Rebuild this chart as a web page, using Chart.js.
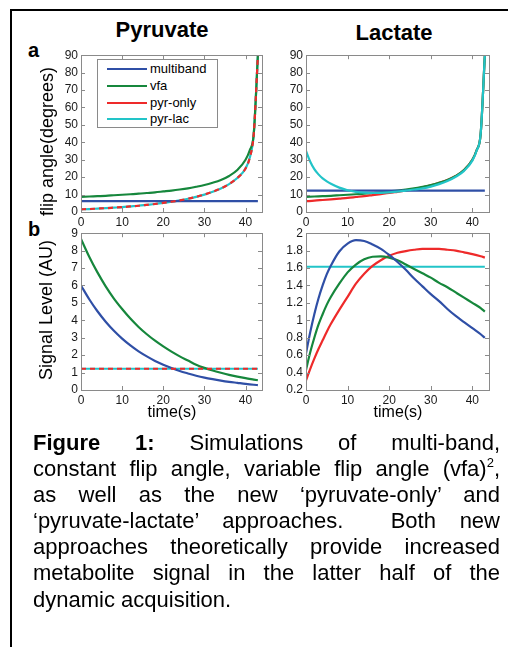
<!DOCTYPE html>
<html>
<head>
<meta charset="utf-8">
<script src="https://cdn.jsdelivr.net/npm/chart.js"></script>
<style>
  body { margin: 0; background: #fff; }
  #fig { position: relative; width: 508px; height: 647px; overflow: hidden;
         font-family: "Liberation Sans", Arial, Helvetica, sans-serif; color: #000; }
  .abs { position: absolute; white-space: nowrap; }
  canvas { position: absolute; }
  .title { font-size: 22px; font-weight: bold; line-height: 22px; width: 200px; text-align: center; }
  .panel { font-size: 20px; font-weight: bold; line-height: 20px; }
  .ylab { width: 220px; text-align: center; transform: rotate(-90deg); }
  .xlab { font-size: 16px; line-height: 16px; width: 100px; text-align: center; }
  #legend { position: absolute; left: 97px; top: 59px; width: 119px; height: 67px;
            border: 1px solid #8a8a8a; background: #fff; font-size: 13px; }
  .lrow { position: absolute; left: 0; height: 16px; line-height: 16px; white-space: nowrap; }
  .lline { position: absolute; left: 9px; top: 7px; width: 40px; height: 2px; }
  .ltext { position: absolute; left: 52px; top: 0; }
  #caption { position: absolute; left: 33px; top: 430px; width: 467px; font-size: 22px; }
  #caption div { height: 26.1px; line-height: 26.1px; text-align: justify; text-align-last: justify; white-space: nowrap; }
  #caption div.last { text-align-last: left; }
</style>
</head>
<body>
<div id="fig">
  <div class="abs" style="left:10px;top:9px;width:498px;height:2px;background:#000"></div>
  <div class="abs" style="left:10px;top:9px;width:2px;height:638px;background:#000"></div>

  <div class="abs title" style="left:62px;top:19px">Pyruvate</div>
  <div class="abs title" style="left:294px;top:22px">Lactate</div>
  <div class="abs panel" style="left:28px;top:40px">a</div>
  <div class="abs panel" style="left:28px;top:219px">b</div>

  <canvas id="flipPyr" width="219" height="189" style="left:51px;top:45px"></canvas>
  <canvas id="flipLac" width="221" height="189" style="left:276px;top:45px"></canvas>
  <canvas id="sigPyr" width="219" height="189" style="left:51px;top:223px"></canvas>
  <canvas id="sigLac" width="221" height="189" style="left:276px;top:223px"></canvas>

  <div class="abs ylab" style="left:-63px;top:132px;font-size:18px;line-height:19px">flip angle(degrees)</div>
  <div class="abs ylab" style="left:-64px;top:301px;font-size:18px;line-height:18px">Signal Level (AU)</div>
  <div class="abs xlab" style="left:122px;top:404px">time(s)</div>
  <div class="abs xlab" style="left:348px;top:404px">time(s)</div>

  <div id="legend"></div>

  <div id="caption">
    <div><b>Figure 1:</b> Simulations of multi-band,</div>
    <div>constant flip angle, variable flip angle (vfa)<span style="font-size:13px;position:relative;top:-9px">2</span>,</div>
    <div>as well as the new ‘pyruvate-only’ and</div>
    <div>‘pyruvate-lactate’ approaches.&nbsp; Both new</div>
    <div>approaches theoretically provide increased</div>
    <div>metabolite signal in the latter half of the</div>
    <div class="last">dynamic acquisition.</div>
  </div>
</div>

<script>
// time axes (s)
const timeFlat = [0, 43]
const timeFlip = [0, 2, 4, 6, 8, 10, 12, 14, 16, 18, 20, 22, 24, 26, 28, 30, 32, 34, 36, 38, 40, 41, 42, 43]
const timeFlipPL = [0, 1, 2, 3, 4, 5, 6, 8, 10, 12, 14, 16, 18, 20, 22, 24, 26, 28, 30, 32, 34, 36, 38, 40, 41, 42, 43]
const timeSigPyr = [0, 2, 4, 6, 8, 10, 12, 14, 16, 18, 20, 22, 24, 26, 28, 30, 32, 34, 36, 38, 40, 42, 43]
const timeSigLac = [0, 1, 2, 3, 4, 5, 6, 8, 10, 12, 14, 16, 18, 20, 22, 24, 26, 28, 30, 32, 34, 36, 38, 40, 42, 43]

// (a) flip angles, pyruvate
const multibandFlipPyr = [6.2, 6.2]
const vfaFlip = [8.7, 8.9, 9.1, 9.3, 9.6, 9.9, 10.2, 10.5, 10.9, 11.3, 11.8, 12.3, 12.9, 13.6, 14.5, 15.5, 16.8, 18.4, 20.7, 24.1, 30, 35.3, 45, 90]
const pyrOnlyFlipPyr = [1.5, 1.7, 1.95, 2.2, 2.5, 2.8, 3.2, 3.6, 4.1, 4.6, 5.2, 5.9, 6.7, 7.6, 8.7, 10.0, 11.6, 13.5, 16.0, 19.5, 25, 31, 45, 90]
const pyrLacFlipPyr = [1.5, 1.7, 1.95, 2.2, 2.5, 2.8, 3.2, 3.6, 4.1, 4.6, 5.2, 5.9, 6.7, 7.6, 8.7, 10.0, 11.6, 13.5, 16.0, 19.5, 25, 31, 45, 90]

// (a) flip angles, lactate
const multibandFlipLac = [12.3, 12.3]
const pyrOnlyFlipLac = [6.2, 6.5, 6.9, 7.3, 7.7, 8.1, 8.6, 9.1, 9.7, 10.3, 10.9, 11.6, 12.3, 13.1, 14.1, 15.3, 16.7, 18.4, 20.7, 24.1, 30, 35.3, 45, 90]
const pyrLacFlipLac = [35, 29, 24.6, 21.6, 19.3, 17.6, 16.2, 14.0, 12.5, 11.6, 11.1, 10.9, 11.0, 11.3, 11.7, 12.3, 12.9, 13.6, 14.6, 16.0, 17.8, 20.2, 23.6, 29.5, 35, 45, 90]

// (b) signal, pyruvate
const multibandSigPyr = [6.00, 5.21, 4.52, 3.92, 3.40, 2.95, 2.56, 2.22, 1.93, 1.67, 1.45, 1.26, 1.09, 0.95, 0.82, 0.71, 0.62, 0.54, 0.47, 0.41, 0.35, 0.30, 0.28]
const vfaSigPyr = [8.67, 7.65, 6.75, 5.95, 5.25, 4.65, 4.1, 3.62, 3.2, 2.83, 2.5, 2.2, 1.93, 1.69, 1.45, 1.27, 1.12, 0.99, 0.87, 0.77, 0.68, 0.60, 0.56]
const pyrOnlySigPyr = [1.22, 1.22]
const pyrLacSigPyr = [1.22, 1.22]

// (b) signal, lactate
const multibandSigLac = [0.62, 0.86, 1.07, 1.25, 1.40, 1.53, 1.63, 1.79, 1.88, 1.92, 1.91, 1.87, 1.82, 1.75, 1.67, 1.58, 1.48, 1.39, 1.30, 1.22, 1.13, 1.05, 0.98, 0.91, 0.84, 0.80]
const vfaSigLac = [0.43, 0.63, 0.80, 0.95, 1.07, 1.18, 1.27, 1.42, 1.55, 1.64, 1.70, 1.73, 1.735, 1.72, 1.69, 1.64, 1.59, 1.54, 1.49, 1.43, 1.38, 1.32, 1.26, 1.20, 1.14, 1.10]
const pyrOnlySigLac = [0.31, 0.44, 0.56, 0.67, 0.77, 0.87, 0.96, 1.12, 1.27, 1.42, 1.535, 1.625, 1.69, 1.74, 1.775, 1.795, 1.81, 1.82, 1.82, 1.82, 1.81, 1.80, 1.78, 1.76, 1.735, 1.72]
const pyrLacSigLac = [1.615, 1.615]

// tick labels
const xTicks = [0, 10, 20, 30, 40]
const yTicksFlip = [0, 10, 20, 30, 40, 50, 60, 70, 80, 90]
const yTicksSigPyr = [0, 1, 2, 3, 4, 5, 6, 7, 8, 9]
const yTicksSigLac = [0.2, 0.4, 0.6, 0.8, 1, 1.2, 1.4, 1.6, 1.8, 2]

const seriesNames = ['multiband', 'vfa', 'pyr-only', 'pyr-lac']

const colBlue = '#2f4fa6'
const colGreen = '#16873c'
const colRed = '#ee2a2a'
const colCyan = '#22c4c8'
const tickFont = { family: '"Liberation Sans", Arial, sans-serif', size: 12 }


function pts(t, v) {
    return t.map((x, i) => ({ x: x, y: v[i] }))
}

function line(label, t, v, color, order, dashed) {
    return {
        label: label,
        data: pts(t, v),
        borderColor: color,
        backgroundColor: color,
        borderDash: dashed ? [5, 4] : [],
        order: order
    }
}

// matlab style box with inward ticks on all four sides
const boxTicks = {
    id: 'boxTicks',
    afterDatasetsDraw(chart) {
        const ctx = chart.ctx
        const a = chart.chartArea
        const x = chart.scales.x
        const y = chart.scales.y
        ctx.save()
        ctx.strokeStyle = '#8a8a8a'
        ctx.lineWidth = 1
        ctx.setLineDash([])
        ctx.beginPath()
        x.ticks.forEach(t => {
            let px = Math.round(x.getPixelForValue(t.value)) + 0.5
            ctx.moveTo(px, a.bottom); ctx.lineTo(px, a.bottom - 4)
            ctx.moveTo(px, a.top); ctx.lineTo(px, a.top + 4)
        })
        y.ticks.forEach(t => {
            let py = Math.round(y.getPixelForValue(t.value)) + 0.5
            ctx.moveTo(a.left, py); ctx.lineTo(a.left + 4, py)
            ctx.moveTo(a.right, py); ctx.lineTo(a.right - 4, py)
        })
        ctx.stroke()
        ctx.strokeRect(Math.round(a.left) + 0.5, Math.round(a.top) + 0.5,
                       Math.round(a.right - a.left), Math.round(a.bottom - a.top))
        ctx.restore()
    }
}

function makeChart(id, datasets, yMin, yMax, yTickVals) {
    return new Chart(document.getElementById(id), {
        type: 'line',
        data: { datasets: datasets },
        options: {
            responsive: false,
            animation: false,
            layout: { padding: { top: 8, right: 8, left: 0, bottom: 0 } },
            elements: {
                point: { radius: 0 },
                line: { borderWidth: 2.2, cubicInterpolationMode: 'monotone' }
            },
            plugins: { legend: { display: false }, tooltip: { enabled: false } },
            scales: {
                x: {
                    type: 'linear', min: 0, max: 44,
                    grid: { display: false, drawTicks: false }, border: { display: false },
                    ticks: { autoSkip: false, maxRotation: 0, padding: 3, color: '#1a1a1a', font: tickFont,
                             callback: v => String(v) },
                    afterBuildTicks: s => { s.ticks = xTicks.map(v => ({ value: v })) },
                    afterFit: s => { s.height = 22 }
                },
                y: {
                    type: 'linear', min: yMin, max: yMax,
                    grid: { display: false, drawTicks: false }, border: { display: false },
                    ticks: { autoSkip: false, padding: 3, color: '#1a1a1a', font: tickFont,
                             callback: v => String(v) },
                    afterBuildTicks: s => { s.ticks = yTickVals.map(v => ({ value: v })) },
                    afterFit: s => { s.width = 30 }
                }
            }
        },
        plugins: [boxTicks]
    })
}


let chartFlipPyr = makeChart('flipPyr', [
    line(seriesNames[0], timeFlat, multibandFlipPyr, colBlue, 1),
    line(seriesNames[1], timeFlip, vfaFlip, colGreen, 2),
    line(seriesNames[2], timeFlip, pyrOnlyFlipPyr, colRed, 0, true),
    line(seriesNames[3], timeFlip, pyrLacFlipPyr, colCyan, 3)
], 0, 90, yTicksFlip)

makeChart('flipLac', [
    line(seriesNames[0], timeFlat, multibandFlipLac, colBlue, 1),
    line(seriesNames[1], timeFlip, vfaFlip, colGreen, 2),
    line(seriesNames[2], timeFlip, pyrOnlyFlipLac, colRed, 3),
    line(seriesNames[3], timeFlipPL, pyrLacFlipLac, colCyan, 0)
], 0, 90, yTicksFlip)

makeChart('sigPyr', [
    line(seriesNames[0], timeSigPyr, multibandSigPyr, colBlue, 1),
    line(seriesNames[1], timeSigPyr, vfaSigPyr, colGreen, 2),
    line(seriesNames[2], timeFlat, pyrOnlySigPyr, colRed, 0, true),
    line(seriesNames[3], timeFlat, pyrLacSigPyr, colCyan, 3)
], 0, 9, yTicksSigPyr)

makeChart('sigLac', [
    line(seriesNames[0], timeSigLac, multibandSigLac, colBlue, 0),
    line(seriesNames[1], timeSigLac, vfaSigLac, colGreen, 1),
    line(seriesNames[2], timeSigLac, pyrOnlySigLac, colRed, 2),
    line(seriesNames[3], timeFlat, pyrLacSigLac, colCyan, 3)
], 0.2, 2, yTicksSigLac)


// legend inside the first panel, built from its datasets
let legend = document.getElementById('legend')
chartFlipPyr.data.datasets.forEach((ds, i) => {
    let row = document.createElement('div')
    row.className = 'lrow'
    row.style.top = (1 + i * 16.8) + 'px'
    row.innerHTML = '<div class="lline" style="background:' + ds.borderColor + '"></div>' +
                    '<span class="ltext">' + ds.label + '</span>'
    legend.appendChild(row)
})
</script>
</body>
</html>
